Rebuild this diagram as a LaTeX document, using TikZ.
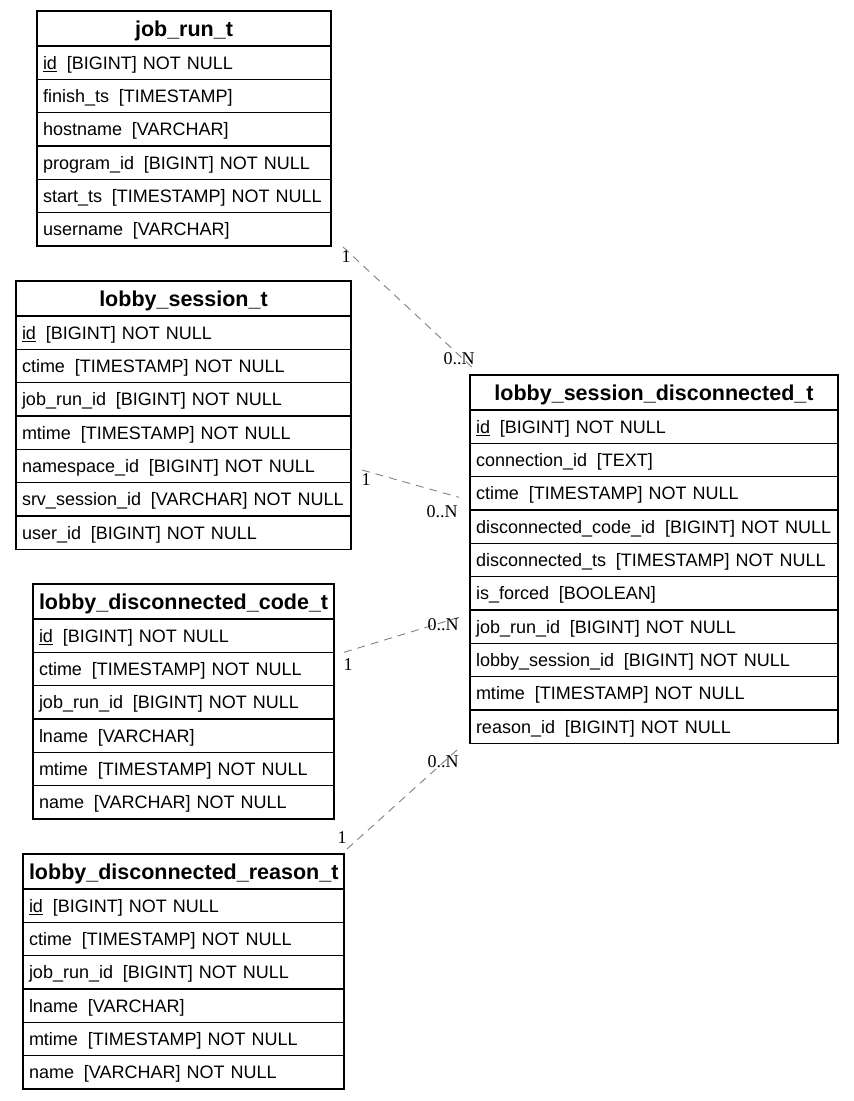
\documentclass[tikz,border=0pt]{standalone}
\usepackage{fontspec}
\setmainfont{Liberation Sans}
\newfontfamily\cardfont{Liberation Serif}
\usepackage{tikz}
\usetikzlibrary{positioning}
\definecolor{edgeGray}{HTML}{808080}
\newcommand{\gap}{\hspace{0.55em}}

\begin{document}
\begin{tikzpicture}[x=1pt, y=-1pt, node distance=0pt]
    \tikzset{hd/.style={draw,line width=1.1pt,inner xsep=6pt,inner ysep=0pt,outer sep=0pt,minimum height=35pt,text width=#1,text height=15.5pt,text depth=0pt,align=center,anchor=north west,font=\fontsize{21.5}{24}\selectfont\bfseries},
      fd/.style={hd=#1,minimum height=33.33pt,text height=13pt,align=left,font=\fontsize{18}{20}\selectfont},
      rel/.style={draw=edgeGray,line width=0.9pt,dash pattern=on 8pt off 6pt},
      card/.style={inner sep=0pt,font=\cardfont\fontsize{18}{20}\selectfont}}
    \useasboundingbox (0,0) rectangle (854,1101);
    % job_run_t
    \node[hd=282pt] (jr0) at (37,11) {job\_run\_t};
    \node[fd=282pt,below=of jr0] (jr1) {\underline{id}\gap[BIGINT] NOT NULL};
    \node[fd=282pt,below=of jr1] (jr2) {finish\_ts\gap[TIMESTAMP]};
    \node[fd=282pt,below=of jr2] (jr3) {hostname\gap[VARCHAR]};
    \node[fd=282pt,below=of jr3] (jr4) {program\_id\gap[BIGINT] NOT NULL};
    \node[fd=282pt,below=of jr4] (jr5) {start\_ts\gap[TIMESTAMP] NOT NULL};
    \node[fd=282pt,below=of jr5] (jr6) {username\gap[VARCHAR]};
    % lobby_session_t
    \node[hd=323pt] (ls0) at (16,281) {lobby\_session\_t};
    \node[fd=323pt,below=of ls0] (ls1) {\underline{id}\gap[BIGINT] NOT NULL};
    \node[fd=323pt,below=of ls1] (ls2) {ctime\gap[TIMESTAMP] NOT NULL};
    \node[fd=323pt,below=of ls2] (ls3) {job\_run\_id\gap[BIGINT] NOT NULL};
    \node[fd=323pt,below=of ls3] (ls4) {mtime\gap[TIMESTAMP] NOT NULL};
    \node[fd=323pt,below=of ls4] (ls5) {namespace\_id\gap[BIGINT] NOT NULL};
    \node[fd=323pt,below=of ls5] (ls6) {srv\_session\_id\gap[VARCHAR] NOT NULL};
    \node[fd=323pt,below=of ls6] (ls7) {user\_id\gap[BIGINT] NOT NULL};
    % lobby_disconnected_code_t
    \node[hd=289pt] (ldc0) at (33,584) {lobby\_disconnected\_code\_t};
    \node[fd=289pt,below=of ldc0] (ldc1) {\underline{id}\gap[BIGINT] NOT NULL};
    \node[fd=289pt,below=of ldc1] (ldc2) {ctime\gap[TIMESTAMP] NOT NULL};
    \node[fd=289pt,below=of ldc2] (ldc3) {job\_run\_id\gap[BIGINT] NOT NULL};
    \node[fd=289pt,below=of ldc3] (ldc4) {lname\gap[VARCHAR]};
    \node[fd=289pt,below=of ldc4] (ldc5) {mtime\gap[TIMESTAMP] NOT NULL};
    \node[fd=289pt,below=of ldc5] (ldc6) {name\gap[VARCHAR] NOT NULL};
    % lobby_disconnected_reason_t
    \node[hd=309pt] (ldr0) at (23,854) {lobby\_disconnected\_reason\_t};
    \node[fd=309pt,below=of ldr0] (ldr1) {\underline{id}\gap[BIGINT] NOT NULL};
    \node[fd=309pt,below=of ldr1] (ldr2) {ctime\gap[TIMESTAMP] NOT NULL};
    \node[fd=309pt,below=of ldr2] (ldr3) {job\_run\_id\gap[BIGINT] NOT NULL};
    \node[fd=309pt,below=of ldr3] (ldr4) {lname\gap[VARCHAR]};
    \node[fd=309pt,below=of ldr4] (ldr5) {mtime\gap[TIMESTAMP] NOT NULL};
    \node[fd=309pt,below=of ldr5] (ldr6) {name\gap[VARCHAR] NOT NULL};
    % lobby_session_disconnected_t
    \node[hd=356pt] (lsd0) at (470,375) {lobby\_session\_disconnected\_t};
    \node[fd=356pt,below=of lsd0] (lsd1) {\underline{id}\gap[BIGINT] NOT NULL};
    \node[fd=356pt,below=of lsd1] (lsd2) {connection\_id\gap[TEXT]};
    \node[fd=356pt,below=of lsd2] (lsd3) {ctime\gap[TIMESTAMP] NOT NULL};
    \node[fd=356pt,below=of lsd3] (lsd4) {disconnected\_code\_id\gap[BIGINT] NOT NULL};
    \node[fd=356pt,below=of lsd4] (lsd5) {disconnected\_ts\gap[TIMESTAMP] NOT NULL};
    \node[fd=356pt,below=of lsd5] (lsd6) {is\_forced\gap[BOOLEAN]};
    \node[fd=356pt,below=of lsd6] (lsd7) {job\_run\_id\gap[BIGINT] NOT NULL};
    \node[fd=356pt,below=of lsd7] (lsd8) {lobby\_session\_id\gap[BIGINT] NOT NULL};
    \node[fd=356pt,below=of lsd8] (lsd9) {mtime\gap[TIMESTAMP] NOT NULL};
    \node[fd=356pt,below=of lsd9] (lsd10) {reason\_id\gap[BIGINT] NOT NULL};
    % relations
    \draw[rel] ([shift={(12,1)}]jr6.south east) coordinate (s1) -- ([shift={(5,-5)}]lsd0.north west) coordinate (e1);
    \draw[rel] ([shift={(11,4)}]ls5.east) coordinate (s2) -- ([shift={(-11,4)}]lsd3.west) coordinate (e2);
    \draw[rel] ([shift={(10,0)}]ldc1.south east) coordinate (s3) -- ([shift={(-10,7)}]lsd6.south west) coordinate (e3);
    \draw[rel] ([shift={(3,-5)}]ldr0.north east) coordinate (s4) -- ([shift={(-10,4)}]lsd10.south west) coordinate (e4);
    \node[card] (c1) at ([shift={(3,10)}]s1) {1};
    \node[card] (n1) at ([shift={(-16,-11)}]e1) {0..N};
    \node[card] (c2) at ([shift={(4,10)}]s2) {1};
    \node[card] (n2) at ([shift={(-17,14)}]e2) {0..N};
    \node[card] (c3) at ([shift={(4,12)}]s3) {1};
    \node[card] (n3) at ([shift={(-17,8)}]e3) {0..N};
    \node[card] (c4) at ([shift={(-5,-11)}]s4) {1};
    \node[card] (n4) at ([shift={(-17,14)}]e4) {0..N};
  \end{tikzpicture}
\end{document}
